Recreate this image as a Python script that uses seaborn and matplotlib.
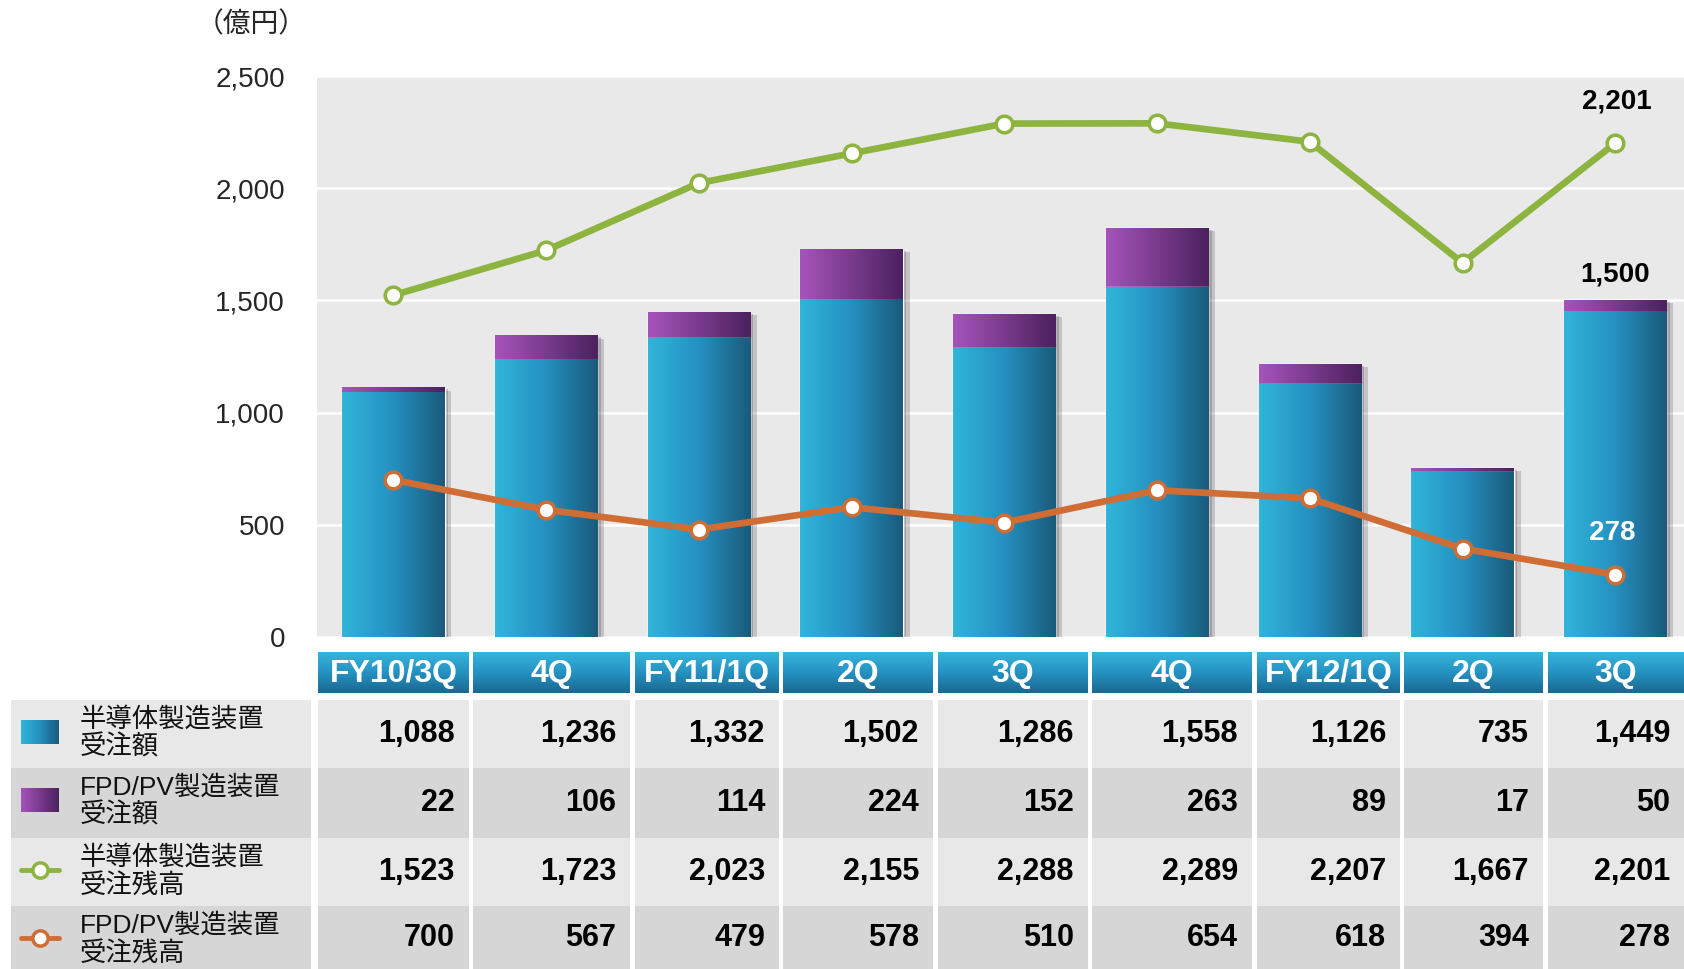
import numpy as np
import pandas as pd
import seaborn as sns
import matplotlib.pyplot as plt
import matplotlib.patheffects as pe
from matplotlib.colors import LinearSegmentedColormap

# data (億円)
quarters = ['FY10/3Q', '4Q', 'FY11/1Q', '2Q', '3Q', '4Q', 'FY12/1Q', '2Q', '3Q']
semi_orders = [1088, 1236, 1332, 1502, 1286, 1558, 1126, 735, 1449]
fpd_orders = [22, 106, 114, 224, 152, 263, 89, 17, 50]
semi_backlog = [1523, 1723, 2023, 2155, 2288, 2289, 2207, 1667, 2201]
fpd_backlog = [700, 567, 479, 578, 510, 654, 618, 394, 278]
last_total = 1500
row_labels = [('半導体製造装置', '受注額'), ('FPD/PV製造装置', '受注額'),
              ('半導体製造装置', '受注残高'), ('FPD/PV製造装置', '受注残高')]
yticks = [0, 500, 1000, 1500, 2000, 2500]
unit_label = '（億円）'

df = pd.DataFrame({'pos': np.arange(len(quarters)),
                   'semi': semi_orders, 'fpd': fpd_orders,
                   'semi_bl': semi_backlog, 'fpd_bl': fpd_backlog})
df['total'] = df['semi'] + df['fpd']

sns.set_theme(style='white')
plt.rcParams['font.family'] = ['Liberation Sans', 'Noto Sans CJK JP', 'DejaVu Sans']

green = '#8cb43f'
orange = '#d06d35'
bg = '#e9e9e9'
blue_cm = LinearSegmentedColormap.from_list('b', ['#31b5da', '#2590c0', '#1a5a7b'])
purple_cm = LinearSegmentedColormap.from_list('p', ['#a554bb', '#7a3a8e', '#4b215d'])
head_cm = LinearSegmentedColormap.from_list('h', ['#36b5dc', '#2592c2', '#1a6890'])
hgrad = np.linspace(0, 1, 256).reshape(1, -1)
vgrad = np.linspace(0, 1, 64).reshape(-1, 1)

W, H = 1684, 969
fig = plt.figure(figsize=(W / 100, H / 100), dpi=100)
ax = fig.add_axes([317 / W, 1 - 637 / H, (W - 317) / W, (637 - 76) / H])
ax.set_facecolor(bg)
ax.set_zorder(2)

# stacked bars: total (purple) underneath, semiconductor (blue) on top
sns.barplot(data=df, x='pos', y='total', color='#7a3a8e', width=0.67,
            errorbar=None, ax=ax, zorder=2)
n_purple = len(ax.patches)
sns.barplot(data=df, x='pos', y='semi', color='#2590c0', width=0.67,
            errorbar=None, ax=ax, zorder=3)

for i, p in enumerate(ax.patches):
    x0, y0, w, h = p.get_x(), p.get_y(), p.get_width(), p.get_height()
    if i < n_purple:
        p.set_path_effects([pe.SimplePatchShadow(offset=(5, -2), alpha=0.18),
                            pe.SimplePatchShadow(offset=(2.5, -1), alpha=0.2),
                            pe.Normal()])
        ax.imshow(hgrad, cmap=purple_cm, extent=(x0, x0 + w, y0, y0 + h),
                  aspect='auto', zorder=2.5)
    else:
        ax.imshow(hgrad, cmap=blue_cm, extent=(x0, x0 + w, y0, y0 + h),
                  aspect='auto', zorder=3.5)

sns.lineplot(data=df, x='pos', y='semi_bl', color=green, lw=4.8, marker='o',
             ms=12, mfc='white', mec=green, mew=2.5, zorder=6, ax=ax)
sns.lineplot(data=df, x='pos', y='fpd_bl', color=orange, lw=4.8, marker='o',
             ms=12, mfc='white', mec=orange, mew=2.5, zorder=6, ax=ax)

ax.annotate(f'{semi_backlog[-1]:,}', (df['pos'].iloc[-1], semi_backlog[-1]),
            xytext=(1, 30), textcoords='offset points', ha='center', va='center',
            fontsize=20, fontweight='bold', color='black')
ax.annotate(f'{last_total:,}', (df['pos'].iloc[-1], last_total),
            xytext=(0, 19), textcoords='offset points', ha='center', va='center',
            fontsize=20, fontweight='bold', color='black')
ax.annotate(f'{fpd_backlog[-1]:,}', (df['pos'].iloc[-1], fpd_backlog[-1]),
            xytext=(-2, 30), textcoords='offset points', ha='center', va='center',
            fontsize=20, fontweight='bold', color='white', zorder=7)

ax.set_xlim(-0.5, 8.45)
ax.set_ylim(0, 2500)
ax.set_yticks(yticks)
ax.set_yticklabels([f'{v:,}' for v in yticks], fontsize=20)
ax.tick_params(axis='y', length=0, pad=23)
ax.set_xticks([])
ax.set_xlabel('')
ax.set_ylabel('')
ax.yaxis.grid(True, color='white', lw=1.8)
ax.set_axisbelow(True)
for s in ax.spines.values():
    s.set_visible(False)

fig.text(251 / W, 1 - 24 / H, unit_label, ha='center', va='center', fontsize=20,
         family=['Noto Sans CJK JP'])

# data table below the chart, in pixel coordinates
tab = fig.add_axes([0, 0, 1, 1])
tab.set_zorder(1)
tab.axis('off')
col_edges = [(318, 469), (473, 630), (635, 779), (783, 933), (938, 1088),
             (1092, 1252), (1257, 1400), (1404, 1543), (1548, 1684)]
rows_y = [(700, 768), (768, 838), (838, 906), (906, 969)]
row_colors = ['#e8e8e8', '#d6d6d6', '#e8e8e8', '#d6d6d6']
table_vals = [semi_orders, fpd_orders, semi_backlog, fpd_backlog]

for (x0, x1), q in zip(col_edges, quarters):
    tab.imshow(vgrad, cmap=head_cm, extent=(x0, x1, 693, 652), origin='upper',
               aspect='auto', zorder=1)
    tab.text((x0 + x1) / 2, 674, q, ha='center', va='center', color='white',
             fontsize=23, fontweight='bold', zorder=3)

for r, ((y0, y1), c, vals) in enumerate(zip(rows_y, row_colors, table_vals)):
    tab.add_patch(plt.Rectangle((11, y0), 300, y1 - y0, color=c, lw=0, zorder=1))
    for (x0, x1), v in zip(col_edges, vals):
        tab.add_patch(plt.Rectangle((x0, y0), x1 - x0, y1 - y0, color=c, lw=0, zorder=1))
        tab.text(x1 - 14, (y0 + y1) / 2, f'{v:,}', ha='right', va='center',
                 fontsize=22, fontweight='bold', color='black', zorder=3)
    tab.text(80, y0 + 19, row_labels[r][0], ha='left', va='center', fontsize=19,
             color='#111111', zorder=3)
    tab.text(80, y0 + 47, row_labels[r][1], ha='left', va='center', fontsize=19,
             color='#111111', zorder=3, family=['Noto Sans CJK JP'])
    yc = y0 + 32
    if r == 0:
        tab.imshow(hgrad, cmap=blue_cm, extent=(21, 59, yc + 12, yc - 12),
                   aspect='auto', zorder=2)
    elif r == 1:
        tab.imshow(hgrad, cmap=purple_cm, extent=(21, 59, yc + 12, yc - 12),
                   aspect='auto', zorder=2)
    else:
        lc = green if r == 2 else orange
        tab.plot([21, 59], [yc, yc], color=lc, lw=3.5, zorder=2)
        tab.plot([40], [yc], 'o', ms=11, mfc='white', mec=lc, mew=2.5, zorder=3)

tab.set_xlim(0, W)
tab.set_ylim(H, 0)

fig.savefig('out.png', dpi=100)
